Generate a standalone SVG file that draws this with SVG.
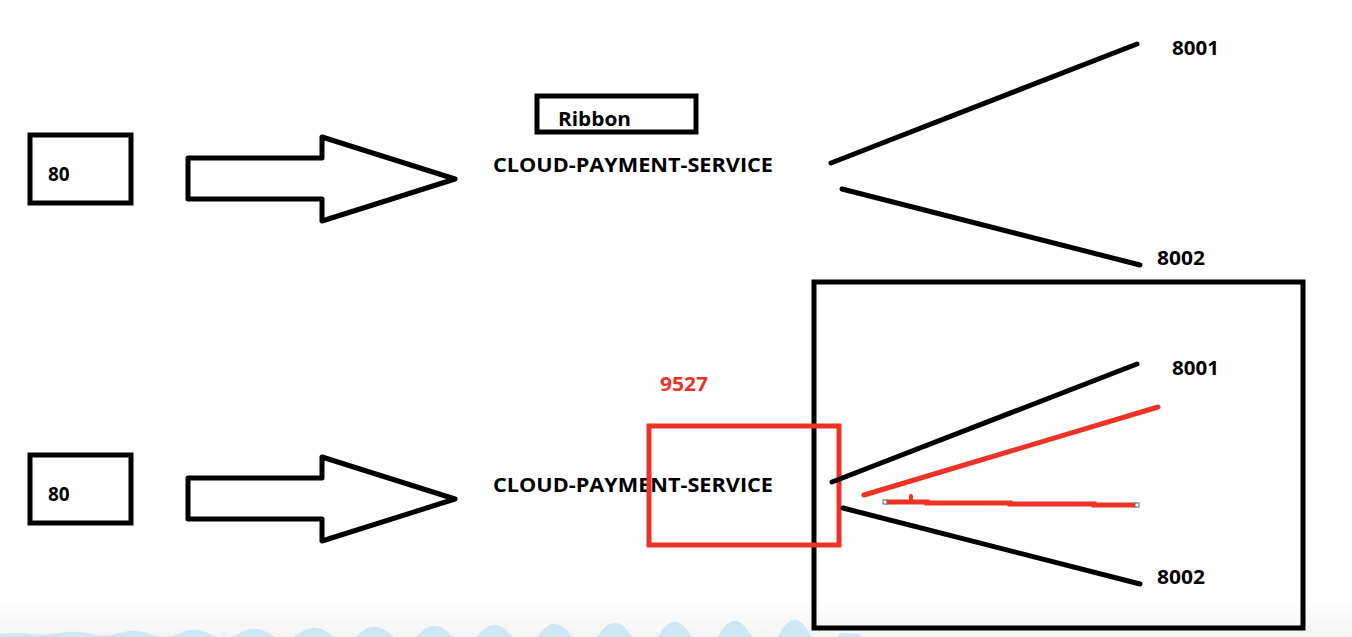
<svg xmlns="http://www.w3.org/2000/svg" width="1352" height="637" viewBox="0 0 1352 637">
<style>
.box{fill:none;stroke:#000;stroke-width:5}
.ln{stroke:#000;stroke-width:5;stroke-linecap:round;fill:none}
.red{stroke:#ec3326;stroke-width:5;stroke-linecap:round;fill:none}
.t{font-family:"Open Sans","Liberation Sans",sans-serif;font-weight:bold;font-size:19px;fill:#000}
.r{fill:#ec3326}
</style>
<defs>
<linearGradient id="bg" x1="0" y1="0" x2="0" y2="1">
<stop offset="0" stop-color="#fff"/>
<stop offset="1" stop-color="#f4f4f4"/>
</linearGradient>
<path id="arrow" d="M188,158 H322 V137 L455,179 L322,221 V199 H188 Z"/>
</defs>
<rect width="1352" height="637" fill="#fff"/>
<rect x="0" y="600" width="1352" height="37" fill="url(#bg)"/>
<path d="M0,634 Q15,632 30,634 T60,633 T90,634 T120,633 T150,634 T180,633 T210,634 T240,633 T270,634 T300,633 T330,634 T360,633 T390,634 T420,633 T450,634 T480,633 T510,634 T540,633 T570,634 T600,633 T630,634 T660,633 T690,634 T720,633 T750,634 T780,633 T810,634 T840,633 L860,634 V637 H0 Z" fill="#cde8f3"/>

<g id="node-80-top">
<rect class="box" x="30" y="135" width="101" height="68"/>
<text class="t" x="48" y="181">80</text>
</g>
<g id="arrow-top">
<use href="#arrow" class="box" stroke-linejoin="round"/>
</g>
<g id="node-ribbon">
<rect class="box" x="537" y="96" width="159" height="36"/>
<text class="t" x="558" y="126" textLength="73" lengthAdjust="spacingAndGlyphs">Ribbon</text>
</g>
<g id="node-service-top">
<text class="t" x="493" y="172" textLength="280" lengthAdjust="spacingAndGlyphs">CLOUD-PAYMENT-SERVICE</text>
</g>
<g id="node-8001-top"><text class="t" x="1172" y="55" textLength="47" lengthAdjust="spacingAndGlyphs">8001</text></g>
<g id="node-8002-top"><text class="t" x="1157" y="265" textLength="48" lengthAdjust="spacingAndGlyphs">8002</text></g>

<g id="node-80-bottom">
<rect class="box" x="30" y="455" width="101" height="68"/>
<text class="t" x="48" y="501">80</text>
</g>
<g id="arrow-bottom">
<use href="#arrow" class="box" stroke-linejoin="round" transform="translate(0,320)"/>
</g>
<g id="node-cluster-box">
<rect class="box" x="814" y="282" width="489" height="346"/>
</g>
<g id="node-service-bottom">
<text class="t" x="493" y="492" textLength="280" lengthAdjust="spacingAndGlyphs">CLOUD-PAYMENT-SERVICE</text>
</g>
<g id="node-9527">
<text class="t r" x="660" y="391" textLength="48" lengthAdjust="spacingAndGlyphs">9527</text>
<rect fill="none" stroke="#ec3326" stroke-width="5" x="649" y="426" width="190" height="119"/>
</g>
<g id="node-8001-bottom"><text class="t" x="1172" y="375" textLength="47" lengthAdjust="spacingAndGlyphs">8001</text></g>
<g id="node-8002-bottom"><text class="t" x="1157" y="584" textLength="48" lengthAdjust="spacingAndGlyphs">8002</text></g>

<g id="connectors">
<line class="ln" x1="831" y1="163" x2="1137" y2="44"/>
<line class="ln" x1="842" y1="189" x2="1140" y2="265"/>
<line class="ln" x1="832" y1="482" x2="1137" y2="364"/>
<line class="ln" x1="843" y1="508" x2="1140" y2="584"/>
<line class="red" x1="864" y1="495" x2="1158" y2="407"/>
<path d="M885,502 H927 V503 H1010 V504 H1094 V505 H1137" stroke="#ec3326" stroke-width="5" fill="none"/>
<path d="M911,502 V496" stroke="#ec3326" stroke-width="4" stroke-linecap="round"/>
<rect x="883" y="500" width="4" height="4" fill="#fff" stroke="#666" stroke-width="1"/>
<rect x="1135" y="503" width="4" height="4" fill="#fff" stroke="#666" stroke-width="1"/>
</g>
</svg>
